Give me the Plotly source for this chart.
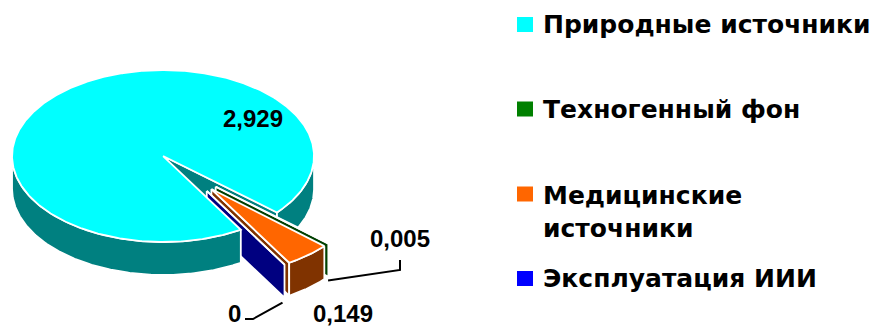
import numpy as np
import plotly.graph_objects as go

# ---- data ----
categories = ["Природные источники", "Техногенный фон", "Медицинские<br>источники", "Эксплуатация ИИИ"]
values = [2.929, 0.005, 0.149, 0.0]

# ---- styling ----
top_colors = ["#00FFFF", "#008000", "#FF6600", "#0000FF"]
side_colors = ["#008080", "#004000", "#803300", "#000080"]
explode = [0.25, 0.25, 0.25, 0.25]       # fraction of radius, along each bisector
start_angle = 59.0                        # degrees, clockwise on screen

# projection of the tilted pie (pixel units)
CX, CY, RX, RY, DEPTH = 187.3, 172.5, 151.0, 86.0, 33.0
W, H = 875, 326
LABEL_FONT = "Liberation Sans, Arial, sans-serif"
LEGEND_FONT = "DejaVu Sans, Verdana, sans-serif"


def proj(u, v, h=0.0):
    return CX + RX * np.asarray(u), CY + RY * np.asarray(v) + DEPTH * np.asarray(h)


def fmt(v):
    s = f"{v:.3f}".rstrip("0").rstrip(".")
    return s.replace(".", ",")


total = sum(values)
spans = [v / total * 360.0 for v in values]
bounds = []
a = start_angle
for s in spans:
    bounds.append((a, a + s))
    a += s

slices = []
for i, (a1, a2) in enumerate(bounds):
    mid = np.radians((a1 + a2) / 2)
    off = (explode[i] * np.cos(mid), explode[i] * np.sin(mid))
    slices.append(dict(a1=a1, a2=a2, off=off))


def poly(xs, ys, fill):
    xs, ys = list(xs), list(ys)
    return go.Scatter(x=xs + [xs[0]], y=ys + [ys[0]], mode="lines",
                      fill="toself", fillcolor=fill,
                      line=dict(color="white", width=1.8),
                      hoverinfo="skip", showlegend=False)


def top_face(sl, color):
    th = np.radians(np.linspace(sl["a1"], sl["a2"], max(3, int(abs(sl["a2"] - sl["a1"]) * 2))))
    ou, ov = sl["off"]
    u = np.concatenate([[ou], ou + np.cos(th)])
    v = np.concatenate([[ov], ov + np.sin(th)])
    x, y = proj(u, v)
    return poly(x, y, color)


def radial_wall(sl, ang, color):
    ou, ov = sl["off"]
    t = np.radians(ang)
    u = np.array([ou, ou + np.cos(t), ou + np.cos(t), ou])
    v = np.array([ov, ov + np.sin(t), ov + np.sin(t), ov])
    x, y = proj(u, v, np.array([0, 0, 1, 1]))
    return poly(x, y, color)


def curved_wall(sl, b1, b2, color):
    ou, ov = sl["off"]
    th = np.radians(np.linspace(b1, b2, max(3, int(abs(b2 - b1) * 2))))
    u = ou + np.cos(th)
    v = ov + np.sin(th)
    xt, yt = proj(u, v, 0.0)
    xb, yb = proj(u[::-1], v[::-1], 1.0)
    return poly(np.concatenate([xt, xb]), np.concatenate([yt, yb]), color)


def visible_arcs(a1, a2):
    """Parts of [a1, a2] on the front half of the pie (sin > 0)."""
    out = []
    k0 = int(np.floor(a1 / 360.0)) - 1
    for k in range(k0, k0 + 4):
        lo, hi = max(a1, 360 * k), min(a2, 360 * k + 180)
        if hi > lo:
            out.append((lo, hi))
    return out


traces = []
big = slices[0]
gap_mid = (bounds[1][0] + bounds[-1][1]) / 2 % 360

# main slice: walls that sit behind the small wedges
if np.cos(np.radians(big["a2"])) > 0:
    traces.append(radial_wall(big, big["a2"], side_colors[0]))
front_arcs = []
for lo, hi in visible_arcs(big["a1"], big["a2"]):
    if ((lo + hi) / 2) % 360 < gap_mid:
        traces.append(curved_wall(big, lo, hi, side_colors[0]))
    else:
        front_arcs.append((lo, hi))

# small slices, back to front
for i in range(1, len(slices)):
    sl = slices[i]
    if np.cos(np.radians(sl["a2"])) > 0:
        traces.append(radial_wall(sl, sl["a2"], side_colors[i]))
    for lo, hi in visible_arcs(sl["a1"], sl["a2"]):
        traces.append(curved_wall(sl, lo, hi, side_colors[i]))
    traces.append(top_face(sl, top_colors[i]))

# main slice: front wall and top
for lo, hi in front_arcs:
    traces.append(curved_wall(big, lo, hi, side_colors[0]))
traces.append(top_face(big, top_colors[0]))

fig = go.Figure(traces)

# ---- data labels ----
label_pos = [(253, 118), (400, 238), (343, 313), (234, 313)]
for i, v in enumerate(values):
    fig.add_annotation(x=label_pos[i][0], y=label_pos[i][1], text=f"<b>{fmt(v)}</b>",
                       showarrow=False, xanchor="center", yanchor="middle",
                       font=dict(family=LABEL_FONT, size=24, color="black"))

# leader lines from the rim of the small slices to their labels
leaders = {1: ([-1, 4], [(400, 270), (400, 260)]),
           3: ([-2, 5], [(253, 319), (245, 319)])}
for i, (nudge, pts) in leaders.items():
    sl = slices[i]
    m = np.radians((sl["a1"] + sl["a2"]) / 2)
    ou, ov = sl["off"]
    sx, sy = proj(ou + np.cos(m), ov + np.sin(m), 1.0)
    xs = [float(sx) + nudge[0]] + [p[0] for p in pts]
    ys = [float(sy) + nudge[1]] + [p[1] for p in pts]
    fig.add_trace(go.Scatter(x=xs, y=ys, mode="lines", line=dict(color="black", width=2),
                             hoverinfo="skip", showlegend=False))

# ---- legend ----
legend_y = [24.5, 109, 194, 278.5]
for name, col, ly in zip(categories, top_colors, legend_y):
    fig.add_shape(type="rect", x0=517, x1=533, y0=ly - 7.5, y1=ly + 7.5,
                  fillcolor=col, line=dict(width=0), layer="above")
    yy = ly + 17.5 if "<br>" in name else ly
    fig.add_annotation(x=541, y=yy, text=f"<b>{name}</b>", showarrow=False,
                       xanchor="left", yanchor="middle", align="left",
                       font=dict(family=LEGEND_FONT, size=25, color="black"))

fig.update_layout(
    width=W, height=H, margin=dict(l=0, r=0, t=0, b=0),
    paper_bgcolor="white", plot_bgcolor="white",
    xaxis=dict(range=[0, W], visible=False, fixedrange=True),
    yaxis=dict(range=[H, 0], visible=False, fixedrange=True),
    showlegend=False,
)

fig.write_html("out.html")
